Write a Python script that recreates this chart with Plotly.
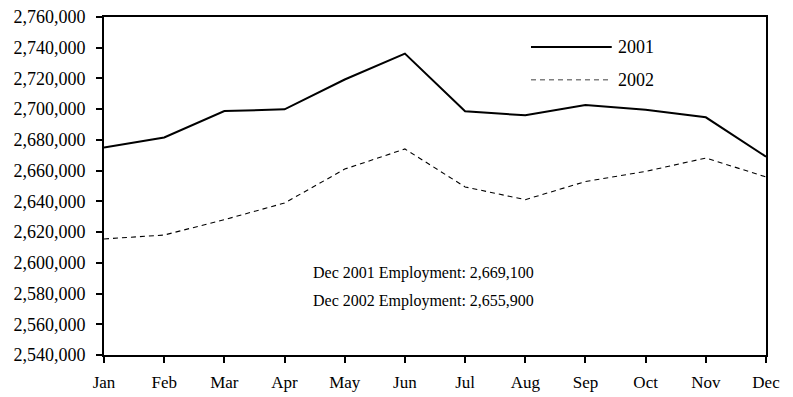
import plotly.graph_objects as go

months = ["Jan", "Feb", "Mar", "Apr", "May", "Jun", "Jul", "Aug", "Sep", "Oct", "Nov", "Dec"]
emp_2001 = [2675100, 2681600, 2698800, 2699900, 2719300, 2736200, 2698600, 2696000, 2702700, 2699700, 2694700, 2669100]
emp_2002 = [2615500, 2618100, 2628100, 2638900, 2661000, 2674100, 2649400, 2641100, 2652900, 2659500, 2668200, 2655900]
notes = ["Dec 2001 Employment: 2,669,100", "Dec 2002 Employment: 2,655,900"]

FONT = "'Liberation Serif', 'Times New Roman', serif"
x = list(range(len(months)))

fig = go.Figure()
fig.add_trace(go.Scatter(x=x, y=emp_2001, mode="lines", name="2001",
                         line=dict(color="black", width=2), showlegend=False))
fig.add_trace(go.Scatter(x=x, y=emp_2002, mode="lines", name="2002",
                         line=dict(color="black", width=1.1, dash="5px,4px"), showlegend=False))

# legend drawn as decoration
fig.add_shape(type="line", xref="paper", yref="paper", x0=0.645, x1=0.767, y0=0.911, y1=0.911,
              line=dict(color="black", width=2))
fig.add_shape(type="line", xref="paper", yref="paper", x0=0.645, x1=0.767, y0=0.814, y1=0.814,
              line=dict(color="#808080", width=1.5, dash="5px,4px"))
fig.add_annotation(xref="paper", yref="paper", x=0.774, y=0.911, text="2001", showarrow=False,
                   xanchor="left", yanchor="middle", font=dict(family=FONT, size=18, color="black"))
fig.add_annotation(xref="paper", yref="paper", x=0.774, y=0.814, text="2002", showarrow=False,
                   xanchor="left", yanchor="middle", font=dict(family=FONT, size=18, color="black"))

for i, t in enumerate(notes):
    fig.add_annotation(xref="paper", yref="paper", x=0.483, y=0.243 - i * 0.083, text=t,
                       showarrow=False, xanchor="center", yanchor="middle",
                       font=dict(family=FONT, size=16, color="black"))

fig.update_layout(
    width=793, height=397,
    margin=dict(l=104, r=27, t=17, b=42),
    plot_bgcolor="white", paper_bgcolor="white",
    font=dict(family=FONT, size=18, color="black"),
)
fig.update_xaxes(range=[0, 11], tickvals=x, ticktext=months, showgrid=False, zeroline=False,
                 showline=True, linecolor="black", linewidth=2, mirror=True,
                 ticks="outside", ticklen=6, tickwidth=2, tickcolor="black",
                 ticklabelstandoff=5, automargin=False,
                 tickfont=dict(family=FONT, size=17))
fig.update_yaxes(range=[2540000, 2760000], dtick=20000, tickformat=",", showgrid=False, zeroline=False,
                 showline=True, linecolor="black", linewidth=2, mirror=True,
                 ticks="outside", ticklen=6, tickwidth=2, tickcolor="black",
                 ticklabelstandoff=7, automargin=False,
                 tickfont=dict(family=FONT, size=18))

fig.write_html("out.html")
